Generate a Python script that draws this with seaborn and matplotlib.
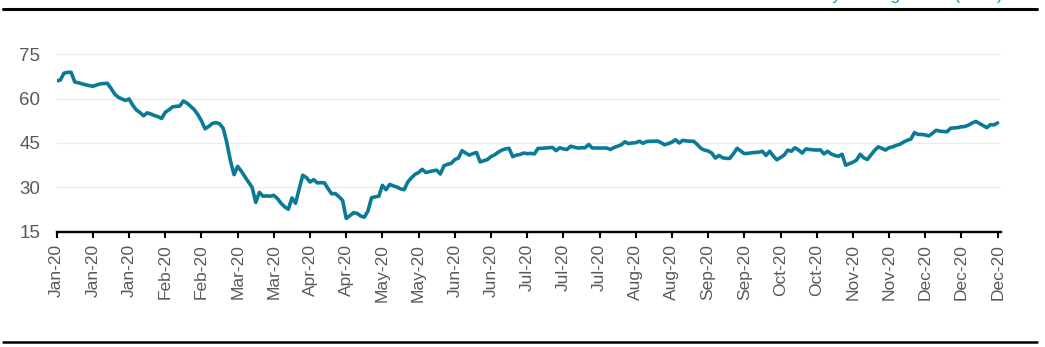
import numpy as np
import pandas as pd
import matplotlib
matplotlib.use("Agg")
import matplotlib.pyplot as plt
from matplotlib.lines import Line2D
import seaborn as sns

# Brent crude, daily closing values for 2020 (USD per barrel), one value per trading day
brent_close = [
    66.0, 66.3, 68.6, 68.9, 68.9, 65.6, 65.4, 65.0, 64.7, 64.4,
    64.2, 64.6, 65.0, 65.1, 65.2, 63.5, 61.6, 60.5, 59.9, 59.4,
    59.9, 57.8, 56.2, 55.3, 54.2, 55.2, 54.8, 54.3, 53.9, 53.3,
    55.4, 56.2, 57.2, 57.4, 57.5, 59.2, 58.5, 57.4, 56.3, 54.6,
    52.5, 49.8, 50.6, 51.6, 51.9, 51.5, 50.0, 45.2, 39.0, 34.3,
    37.1, 35.5, 33.6, 31.8, 30.0, 24.9, 28.3, 27.0, 27.1, 27.0,
    27.3, 26.2, 24.6, 23.4, 22.6, 26.4, 24.6, 29.5, 34.1, 33.3,
    31.8, 32.6, 31.5, 31.6, 31.5, 29.5, 27.8, 27.9, 26.8, 25.6,
    19.5, 20.4, 21.4, 21.2, 20.3, 19.9, 22.0, 26.5, 26.8, 27.0,
    30.7, 29.2, 31.0, 30.5, 30.1, 29.5, 29.2, 31.8, 33.2, 34.4,
    35.0, 36.1, 35.0, 35.3, 35.6, 35.8, 34.5, 37.3, 37.8, 38.1,
    39.4, 39.9, 42.4, 41.6, 40.9, 41.4, 41.8, 38.6, 39.0, 39.4,
    40.4, 41.0, 41.9, 42.6, 43.0, 43.2, 40.4, 40.9, 41.1, 41.6,
    41.4, 41.5, 41.3, 43.2, 43.2, 43.3, 43.4, 43.5, 42.4, 43.4,
    43.0, 42.8, 43.9, 43.6, 43.3, 43.4, 43.4, 44.5, 43.3, 43.3,
    43.3, 43.3, 43.3, 42.8, 43.5, 43.9, 44.4, 45.4, 44.8, 45.0,
    45.1, 45.6, 44.9, 45.5, 45.6, 45.6, 45.7, 45.1, 44.4, 44.8,
    45.3, 46.1, 45.0, 45.9, 45.7, 45.6, 45.6, 44.5, 43.2, 42.6,
    42.3, 41.6, 39.9, 40.8, 40.0, 39.8, 39.8, 41.4, 43.2, 42.3,
    41.4, 41.5, 41.7, 41.8, 41.9, 42.2, 40.8, 42.2, 40.6, 39.3,
    40.1, 40.9, 42.6, 42.2, 43.4, 42.6, 41.6, 43.0, 42.8, 42.7,
    42.6, 42.7, 41.3, 42.2, 41.3, 40.8, 40.5, 41.2, 37.5, 38.0,
    38.5, 39.2, 41.2, 40.0, 39.4, 41.0, 42.5, 43.7, 43.2, 42.6,
    43.4, 43.7, 44.2, 44.6, 45.3, 45.9, 46.3, 48.5, 47.9, 47.9,
    47.7, 47.4, 48.3, 49.3, 49.0, 48.9, 48.8, 50.0, 50.1, 50.2,
    50.5, 50.6, 51.1, 51.8, 52.3, 51.6, 50.9, 50.2, 51.2, 51.1, 51.8,
]
trading_days = pd.bdate_range("2020-01-02", periods=len(brent_close))
y_ticks = [15, 30, 45, 60, 75]
tick_step = 10  # one label every two trading weeks
title_text = "Brent crude oil daily closing levels (USD)"

LINE_COLOR = "#0b7a96"
TEXT_GREY = "#595959"

sns.set_theme(style="white")
plt.rcParams["font.family"] = ["Liberation Sans", "DejaVu Sans"]

df = pd.DataFrame({"day": np.arange(len(brent_close)), "close": brent_close})

fig = plt.figure(figsize=(10.45, 3.47), dpi=100)
ax = fig.add_axes([0.05426, 0.3323, 0.9039, 0.5112])

sns.lineplot(data=df, x="day", y="close", ax=ax, color=LINE_COLOR,
             linewidth=2.6, solid_joinstyle="round", solid_capstyle="round")

ax.set_xlim(0, len(brent_close))
ax.set_ylim(y_ticks[0], y_ticks[-1])
ax.set_yticks(y_ticks)
ax.set_yticklabels([str(v) for v in y_ticks])
tick_pos = np.arange(0, len(brent_close), tick_step)
ax.set_xticks(tick_pos)
ax.set_xticklabels([d.strftime("%b-%y") for d in trading_days[tick_pos]], rotation=90)

ax.set_xlabel("")
ax.set_ylabel("")
ax.grid(axis="y", color="#ececec", linewidth=1.0)
ax.grid(axis="x", visible=False)
ax.set_axisbelow(True)

for side in ("top", "right", "left"):
    ax.spines[side].set_visible(False)
ax.spines["bottom"].set_color("black")
ax.spines["bottom"].set_linewidth(1.7)

ax.tick_params(axis="y", length=0, pad=12, labelsize=13.5, labelcolor=TEXT_GREY)
ax.tick_params(axis="x", direction="out", length=4, width=1.5, color="black",
               pad=5, labelsize=12.5, labelcolor=TEXT_GREY, bottom=True)

# frame rules above and below the chart
fig.add_artist(Line2D([3 / 1045, 1037 / 1045], [1 - 9 / 347] * 2,
                      color="black", linewidth=2.2))
fig.add_artist(Line2D([3 / 1045, 1037 / 1045], [1 - 342 / 347] * 2,
                      color="black", linewidth=1.8))

# chart heading, sitting just above the top edge of the canvas
fig.text(1003 / 1045, 1.0, title_text, ha="right", va="baseline",
         color="#1b8eb0", fontsize=12.5)

fig.savefig("out.png", dpi=100)
